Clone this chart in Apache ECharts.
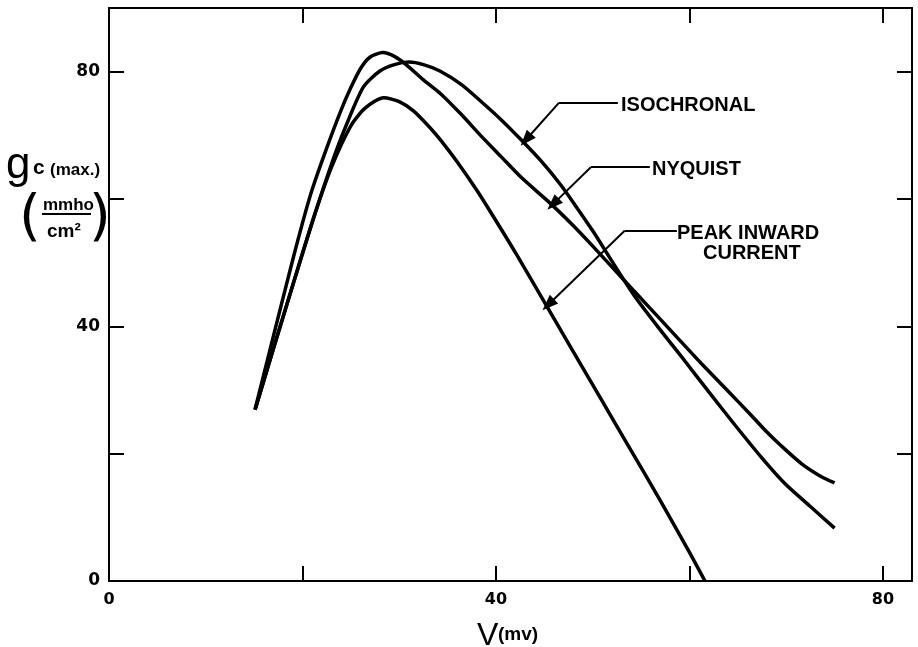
<!DOCTYPE html>
<html>
<head>
<meta charset="utf-8">
<script src="https://cdn.jsdelivr.net/npm/echarts@6/dist/echarts.min.js"></script>
<style>
html, body { margin: 0; padding: 0; background: #fff; }
#chart { width: 918px; height: 647px; }
</style>
</head>
<body>
<div id="chart"></div>
<script>
// curves: V (mv) vs gc(max) (mmho/cm2)
var isoV = [15.1, 17, 19, 21.1, 23, 24.5, 26.3, 28, 29.5, 31, 32.5, 34.2, 36.4, 38.4, 40.5, 42.6, 44.7, 46.7, 48.1, 50, 52, 54.3, 57, 59.5, 62, 64.7, 67.5, 69.8, 72.5, 75];
var isoG = [26.9, 36.5, 46.5, 56.8, 65.5, 71.5, 77.6, 80.1, 81.1, 81.5, 81.1, 80.1, 78, 75.4, 72.5, 69.3, 65.9, 62.2, 59.2, 55, 50.2, 44.8, 39.4, 34.6, 29.7, 24.5, 19.3, 15.4, 11.7, 8.3];

var nyqV = [15.1, 17, 19, 20.1, 21, 22.5, 24, 25, 26, 27, 28.3, 29.5, 30.8, 32.5, 34.3, 36.4, 38.4, 40.5, 42.6, 45.7, 48, 50, 52, 54.3, 57, 59, 61.2, 64, 66.4, 68, 69.5, 71.6, 73.5, 75];
var nyqG = [27, 38.5, 50.5, 56.8, 61.5, 68, 74, 77.5, 80.5, 82.3, 83, 82.4, 81, 78.7, 76.5, 73.3, 70, 66.7, 63.4, 59.2, 55.8, 52.6, 49.3, 45.5, 41.1, 37.8, 34.2, 29.8, 26, 23.4, 21.2, 18.4, 16.5, 15.4];

var pkV = [15.1, 17, 19, 21.1, 23, 25, 26.5, 28.4, 30, 31.5, 33.3, 34.3, 36, 38, 39.5, 42, 45.2, 48, 51, 54, 57, 60, 61.6];
var pkG = [26.9, 36.5, 46.5, 56.8, 65, 71.5, 74.3, 75.9, 75.3, 73.8, 71, 69.2, 65.8, 61.4, 57.8, 51.6, 43.3, 36, 28.2, 20.4, 12.6, 4.5, 0];

var xTickLabels = ['0', '40', '80'];
var yTickLabels = ['0', '40', '80'];

// leader lines for the curve labels: [elbow, end of horizontal, arrow tip]
var isoLeader = [[46.5, 75.1], [52.6, 75.1], [43.1, 69.3]];
var nyqLeader = [[49.8, 65.0], [55.9, 65.0], [45.9, 59.2]];
var pkLeader = [[53.3, 55.0], [58.7, 55.0], [45.4, 43.4]];

function pairs(xs, ys) {
    return xs.map(function (x, i) { return [x, ys[i]]; });
}

function leader(p) {
    return [
        [{coord: p[1], symbol: 'none'}, {coord: p[0], symbol: 'none'}],
        [{coord: p[0], symbol: 'none'}, {coord: p[2], symbol: 'triangle', symbolSize: [12, 16]}]
    ];
}

function curve(name, data, lead) {
    return {
        name: name,
        type: 'line',
        data: data,
        smooth: 0.25,
        showSymbol: false,
        lineStyle: {color: '#000', width: 3.5},
        markLine: {
            silent: true,
            animation: false,
            label: {show: false},
            lineStyle: {color: '#000', width: 2, type: 'solid'},
            data: leader(lead)
        }
    };
}

var tickFont = {fontFamily: 'DejaVu Sans', fontWeight: 'bold', color: '#000'};
var frameLine = {onZero: false, lineStyle: {color: '#000', width: 2}};
var frameTick = {inside: true, length: 15, lineStyle: {color: '#000', width: 2}};

function t(text, x, y, font) {
    return {
        type: 'text', x: x, y: y, silent: true,
        style: {text: text, font: font, fill: '#000',
            textAlign: 'left', textVerticalAlign: 'middle', align: 'left', verticalAlign: 'middle'}
    };
}

var lblFont = 'bold 20px "Liberation Sans"';

var option = {
    animation: false,
    backgroundColor: '#fff',
    grid: {left: 109, right: 6, top: 8, bottom: 66},
    xAxis: [{
        type: 'value', min: 0, max: 83, interval: 20,
        axisLine: frameLine, axisTick: frameTick,
        splitLine: {show: false},
        axisLabel: Object.assign({
            fontSize: 16, margin: 11,
            formatter: function (v) { return xTickLabels.indexOf(String(v)) >= 0 ? String(v) : ''; }
        }, tickFont)
    }, {
        type: 'value', position: 'top', min: 0, max: 83, interval: 20,
        axisLine: frameLine, axisTick: frameTick,
        splitLine: {show: false},
        axisLabel: {show: false}
    }],
    yAxis: [{
        type: 'value', min: 0, max: 90, interval: 20,
        axisLine: Object.assign({show: true}, frameLine),
        axisTick: Object.assign({show: true}, frameTick),
        splitLine: {show: false},
        axisLabel: Object.assign({
            fontSize: 17, margin: 9,
            formatter: function (v) { return yTickLabels.indexOf(String(v)) >= 0 ? String(v) : ''; }
        }, tickFont)
    }, {
        type: 'value', position: 'right', min: 0, max: 90, interval: 20,
        axisLine: Object.assign({show: true}, frameLine),
        axisTick: Object.assign({show: true}, frameTick),
        splitLine: {show: false},
        axisLabel: {show: false}
    }],
    series: [
        curve('ISOCHRONAL', pairs(isoV, isoG), isoLeader),
        curve('NYQUIST', pairs(nyqV, nyqG), nyqLeader),
        curve('PEAK INWARD CURRENT', pairs(pkV, pkG), pkLeader)
    ],
    graphic: [
        t('ISOCHRONAL', 621, 105, lblFont),
        t('NYQUIST', 652, 169, lblFont),
        t('PEAK INWARD', 677, 233, lblFont),
        t('CURRENT', 703, 253, lblFont),
        // y axis name
        t('g', 6, 166, '44px "Liberation Sans"'),
        t('c', 33, 168, 'bold 21px "Liberation Sans"'),
        t('(max.)', 50, 170, 'bold 17px "Liberation Sans"'),
        t('(', 19, 219.5, '56px "DejaVu Sans"'),
        t('mmho', 43, 205.5, 'bold 17px "Liberation Sans"'),
        {type: 'line', silent: true, shape: {x1: 42, y1: 214, x2: 91, y2: 214}, style: {stroke: '#000', lineWidth: 2}},
        t('cm²', 47, 232, 'bold 19px "Liberation Sans"'),
        t(')', 89, 219.5, '56px "DejaVu Sans"'),
        // x axis name
        t('V', 477, 636, '32px "Liberation Sans"'),
        t('(mv)', 498, 635, 'bold 19px "Liberation Sans"')
    ]
};

var chart = echarts.init(document.getElementById('chart'));
chart.setOption(option);
</script>
</body>
</html>
